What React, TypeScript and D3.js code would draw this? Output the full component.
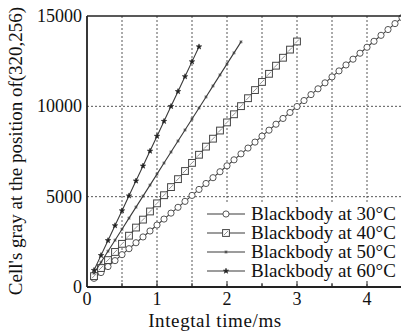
import React from "react";
import * as d3 from "d3";

const xTicks = [0, 1, 2, 3, 4];
const yTicks = [0, 5000, 10000, 15000];
const labels = ["Blackbody at 30°C", "Blackbody at 40°C", "Blackbody at 50°C", "Blackbody at 60°C"];

const x30 = [0.1,0.2,0.3,0.4,0.5,0.6,0.7,0.8,0.9,1.0,1.1,1.2,1.3,1.4,1.5,1.6,1.7,1.8,1.9,2.0,2.1,2.2,2.3,2.4,2.5,2.6,2.7,2.8,2.9,3.0,3.1,3.2,3.3,3.4,3.5,3.6,3.7,3.8,3.9,4.0,4.1,4.2,4.3,4.4,4.5];
const y30 = [480,800,1130,1460,1790,2120,2450,2770,3100,3430,3760,4090,4410,4740,5070,5400,5730,6050,6380,6710,7040,7370,7690,8020,8350,8680,9010,9330,9660,9990,10320,10650,10970,11300,11630,11960,12290,12610,12940,13270,13600,13930,14250,14580,14910];

const x40 = [0.1,0.2,0.3,0.4,0.5,0.6,0.7,0.8,0.9,1.0,1.1,1.2,1.3,1.4,1.5,1.6,1.7,1.8,1.9,2.0,2.1,2.2,2.3,2.4,2.5,2.6,2.7,2.8,2.9,3.0];
const y40 = [600,1050,1490,1940,2390,2840,3290,3730,4180,4630,5080,5530,5970,6420,6870,7320,7770,8210,8660,9110,9560,10010,10450,10900,11350,11800,12250,12690,13140,13590];

const x50 = [0.1,0.2,0.3,0.4,0.5,0.6,0.7,0.8,0.9,1.0,1.1,1.2,1.3,1.4,1.5,1.6,1.7,1.8,1.9,2.0,2.1,2.2];
const y50 = [760,1370,1980,2590,3200,3810,4420,5030,5640,6250,6860,7470,8080,8690,9300,9910,10520,11130,11740,12350,12960,13570];

const x60 = [0.1,0.2,0.3,0.4,0.5,0.6,0.7,0.8,0.9,1.0,1.1,1.2,1.3,1.4,1.5,1.6];
const y60 = [925,1750,2575,3400,4225,5050,5875,6700,7525,8350,9175,10000,10825,11650,12475,13300];

const seriesX = [x30, x40, x50, x60];
const seriesY = [y30, y40, y50, y60];

const L = 87, R = 402, T = 16, B = 287;
const font = "'Times New Roman', 'Liberation Serif', serif";
const lineColor = "#3a3a3a";

function Marker({ kind, cx, cy }: { kind: number; cx: number; cy: number }) {
  if (kind === 0) return <circle cx={cx} cy={cy} r={3.1} fill="#fff" stroke="#555" strokeWidth={1} />;
  if (kind === 1)
    return (
      <g>
        <rect x={cx - 3.4} y={cy - 3.4} width={6.8} height={6.8} fill="#fff" stroke="#444" strokeWidth={1} />
        <line x1={cx - 2} y1={cy + 2} x2={cx + 2} y2={cy - 2} stroke="#777" strokeWidth={0.8} />
      </g>
    );
  if (kind === 2) {
    const p = d3.symbol(d3.symbolAsterisk, 8)();
    return <path d={p || ""} transform={`translate(${cx},${cy})`} fill="none" stroke="#444" strokeWidth={0.8} />;
  }
  const p = d3.symbol(d3.symbolStar, 9)();
  return <path d={p || ""} transform={`translate(${cx},${cy})`} fill="#222" stroke="#222" strokeWidth={0.6} />;
}

export default function App() {
  const xs = d3.scaleLinear().domain([0, 4.5]).range([L, R]);
  const ys = d3.scaleLinear().domain([0, 15000]).range([B, T]);
  const line = d3.line<[number, number]>().x((d) => xs(d[0])).y((d) => ys(d[1]));
  const gridX = d3.range(1, 10).map((i) => i * 0.5);
  const gridY = [5000, 10000];
  const minorX = d3.range(1, 10).map((i) => i * 0.5);

  const legX = 197, legY = 202, legRow = 19;

  return (
    <svg width={401} height={331} style={{ position: "absolute", left: 0, top: 0, background: "#fff" }}>
      <rect x={0} y={0} width={401} height={331} fill="#fff" />
      {gridX.map((g) => (
        <line key={"gx" + g} x1={xs(g)} x2={xs(g)} y1={T} y2={B} stroke="#444" strokeWidth={0.9} strokeDasharray="2,2" />
      ))}
      {gridY.map((g) => (
        <line key={"gy" + g} x1={L} x2={R} y1={ys(g)} y2={ys(g)} stroke="#444" strokeWidth={0.9} strokeDasharray="2,2" />
      ))}
      {seriesX.map((sx, si) => {
        const pts = sx.map((v, i) => [v, seriesY[si][i]] as [number, number]);
        return (
          <g key={"s" + si}>
            <path d={line(pts) || ""} fill="none" stroke={lineColor} strokeWidth={1.1} />
            {pts.map((p, i) => (
              <Marker key={i} kind={si} cx={xs(p[0])} cy={ys(p[1])} />
            ))}
          </g>
        );
      })}
      {/* legend */}
      <rect x={legX} y={legY} width={R - legX} height={legRow * 4 + 4} fill="#fff" />
      {labels.map((lab, i) => {
        const cy = legY + 12 + i * legRow;
        return (
          <g key={"leg" + i}>
            <line x1={207} x2={245} y1={cy} y2={cy} stroke={lineColor} strokeWidth={1.2} />
            <Marker kind={i} cx={226} cy={cy} />
            <text x={251} y={cy + 6} fontFamily={font} fontSize={19} fill="#111">{lab}</text>
          </g>
        );
      })}
      {/* minor ticks on bottom axis */}
      {minorX.map((m) => (
        <line key={"mt" + m} x1={xs(m)} x2={xs(m)} y1={B} y2={B - (Number.isInteger(m) ? 6 : 4)} stroke="#222" strokeWidth={1} />
      ))}
      {/* axes */}
      <line x1={L} x2={R} y1={T} y2={T} stroke="#222" strokeWidth={1.5} />
      <line x1={L} x2={L} y1={T} y2={B} stroke="#222" strokeWidth={1.8} />
      <line x1={L} x2={R} y1={B} y2={B} stroke="#222" strokeWidth={1.8} />
      {yTicks.map((t) => (
        <text key={"yt" + t} x={82} y={ys(t) + 6} textAnchor="end" fontFamily={font} fontSize={18} fill="#111">{t}</text>
      ))}
      {xTicks.map((t) => (
        <text key={"xt" + t} x={xs(t)} y={305} textAnchor="middle" fontFamily={font} fontSize={18} fill="#111">{t}</text>
      ))}
      <text x={215} y={327} textAnchor="middle" fontFamily={font} fontSize={19} letterSpacing={0.6} fill="#111">Integtal time/ms</text>
      <text transform="translate(22,151) rotate(-90)" textAnchor="middle" fontFamily={font} fontSize={19} fill="#111">
        Cell's gray at the position of(320,256)
      </text>
    </svg>
  );
}
